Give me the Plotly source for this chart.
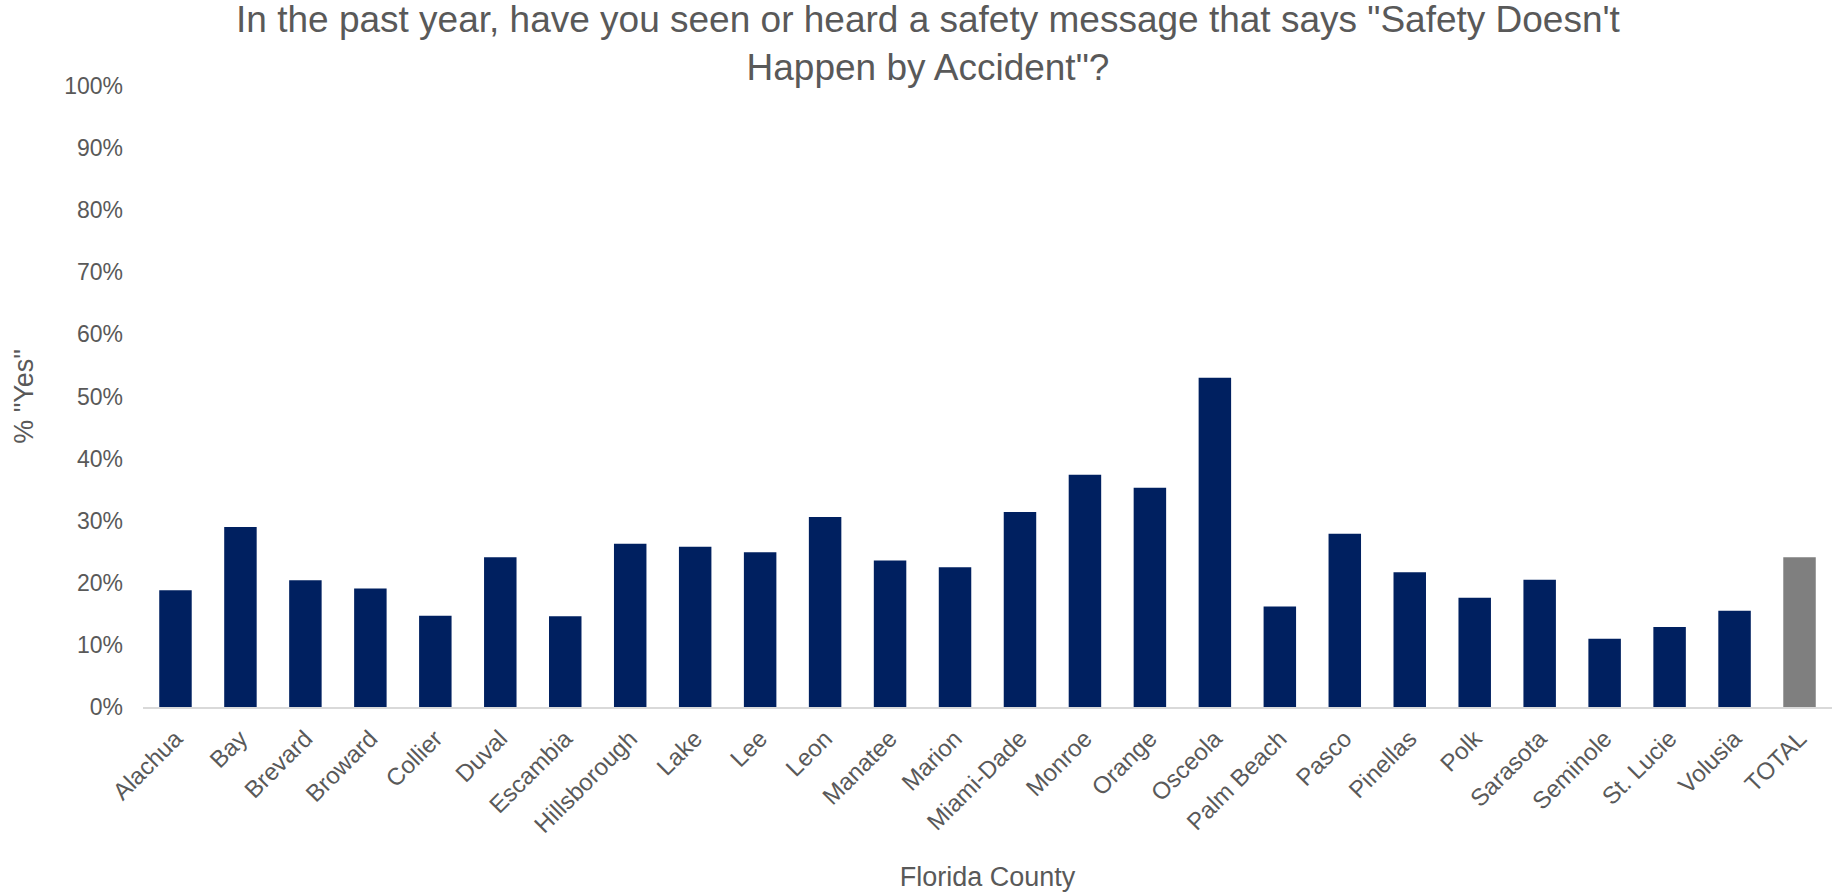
import plotly.graph_objects as go

counties = ["Alachua", "Bay", "Brevard", "Broward", "Collier", "Duval", "Escambia",
            "Hillsborough", "Lake", "Lee", "Leon", "Manatee", "Marion", "Miami-Dade",
            "Monroe", "Orange", "Osceola", "Palm Beach", "Pasco", "Pinellas", "Polk",
            "Sarasota", "Seminole", "St. Lucie", "Volusia", "TOTAL"]
pct_yes = [18.8, 29.0, 20.4, 19.1, 14.7, 24.1, 14.6,
           26.3, 25.8, 24.9, 30.6, 23.6, 22.5, 31.4,
           37.4, 35.3, 53.0, 16.2, 27.9, 21.7, 17.6,
           20.5, 11.0, 12.9, 15.5, 24.1]
bar_colors = ["#002060"] * 25 + ["#7F7F7F"]

FONT = "Arial, 'Liberation Sans', sans-serif"
GRAY = "#595959"

fig = go.Figure(go.Bar(
    x=counties,
    y=[v / 100 for v in pct_yes],
    marker=dict(color=bar_colors, line=dict(width=0)),
    hoverinfo="x+y",
))

fig.update_layout(
    width=1839, height=894,
    margin=dict(l=143, r=7, t=86, b=187),
    paper_bgcolor="white", plot_bgcolor="white",
    bargap=0.5,
    showlegend=False,
    font=dict(family=FONT, color=GRAY, size=23),
    title=dict(
        text="In the past year, have you seen or heard a safety message that says \"Safety Doesn't<br>Happen by Accident\"?",
        x=0.5046, xanchor="center", yref="container", y=1 - 32 / 894, yanchor="middle",
        font=dict(family=FONT, size=37, color=GRAY),
    ),
    xaxis=dict(
        tickangle=-45,
        showline=True, linecolor="#D9D9D9", linewidth=2,
        showgrid=False, ticks="",
        tickfont=dict(size=24, color=GRAY),
        ticklabelstandoff=6,
        title=dict(text="Florida County", font=dict(size=27, color=GRAY), standoff=30),
        automargin=False,
    ),
    yaxis=dict(
        range=[0, 1.0],
        tickvals=[i / 10 for i in range(11)],
        tickformat=".0%",
        showgrid=False, zeroline=False, showline=False, ticks="",
        tickfont=dict(size=23, color=GRAY),
        ticklabelstandoff=19,
        title=dict(text="% \"Yes\"", font=dict(size=27, color=GRAY), standoff=22),
        automargin=False,
    ),
)

fig.write_html("out.html")
